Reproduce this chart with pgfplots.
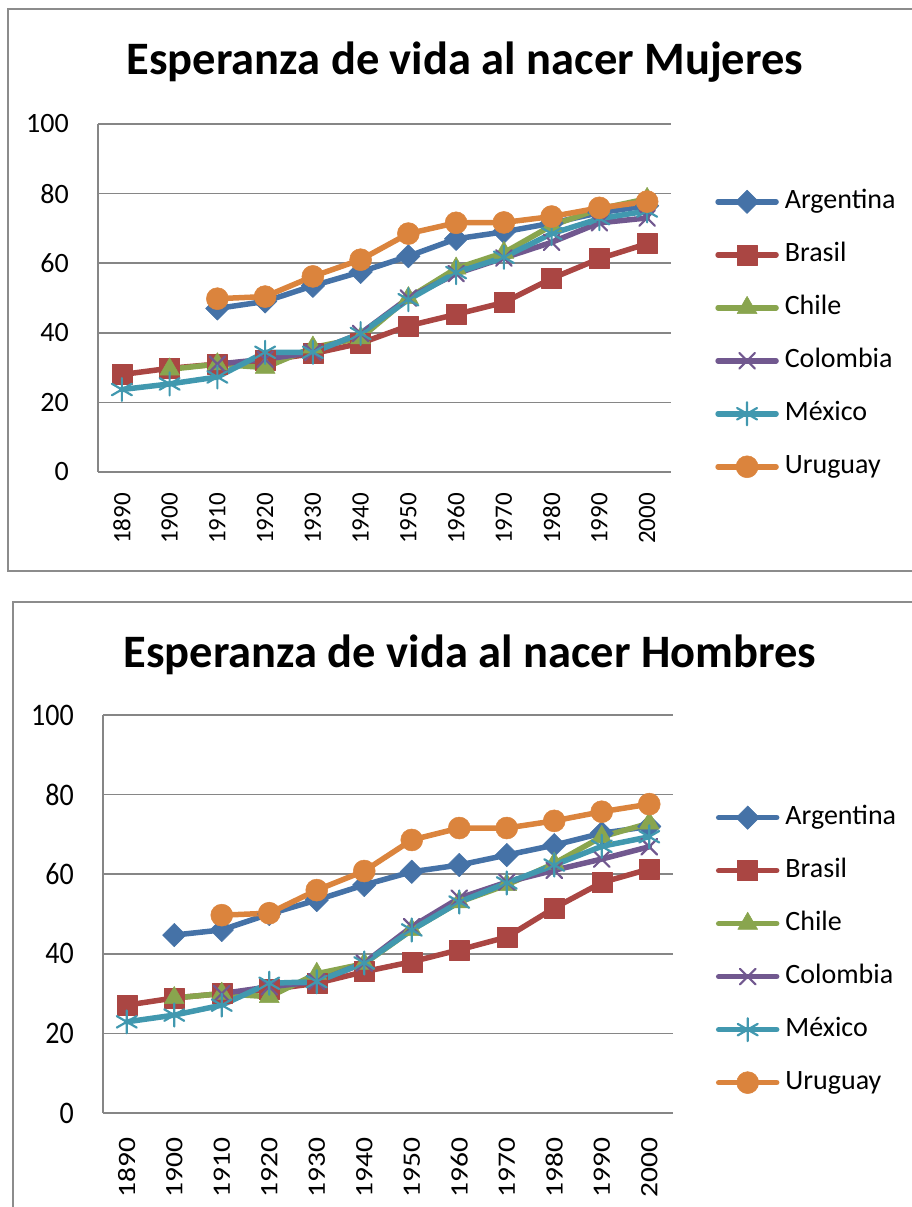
\documentclass[border=0pt]{standalone}
\usepackage{pgfplots}
\pgfplotsset{compat=1.18}
\usepackage{fontspec}
\setmainfont{Carlito}
\definecolor{cArg}{HTML}{4572A7}
\definecolor{cBra}{HTML}{AA4643}
\definecolor{cChi}{HTML}{89A54E}
\definecolor{cCol}{HTML}{71588F}
\definecolor{cMex}{HTML}{4198AF}
\definecolor{cUru}{HTML}{DB843D}
\definecolor{gris}{HTML}{868686}
\definecolor{borde}{HTML}{8C8C8C}
\pgfplotsset{
  lifeaxis/.style={
    scale only axis,
    xmin=1885, xmax=2005, ymin=0, ymax=100,
    ytick={0,20,40,60,80,100},
    xtick={1890,1900,1910,1920,1930,1940,1950,1960,1970,1980,1990,2000},
    xticklabels={1890,1900,1910,1920,1930,1940,1950,1960,1970,1980,1990,2000},
    axis lines*=left,
    axis line style={gris, line width=1.5pt, -},
    ymajorgrids,
    grid style={gris, line width=1.5pt},
    major tick length=0pt,
    /pgf/number format/assume math mode=true,
    clip=false,
    legend cell align=left,
    legend image code/.code={\draw[##1, mark repeat=2, mark phase=2] plot coordinates {(0pt,0pt) (29pt,0pt) (58pt,0pt)};},
    every axis plot/.append style={line width=5.5pt, line join=round, line cap=round},
  },
  sArg/.style={cArg, mark=square*, mark size=8.3pt, mark options={solid, rotate=45, fill=cArg, draw=cArg, line width=0.5pt}},
  sBra/.style={cBra, mark=square*, mark size=10pt, mark options={solid, fill=cBra, draw=cBra, line width=0.5pt}},
  sChi/.style={cChi, mark=triangle*, mark size=11.5pt, mark options={solid, fill=cChi, draw=cChi, line width=0.5pt}},
  sCol/.style={cCol, mark=x, mark size=11pt, mark options={solid, draw=cCol, line width=2.2pt}},
  sMex/.style={cMex, mark=asterisk, mark size=11.5pt, mark options={solid, draw=cMex, line width=2.2pt}},
  sUru/.style={cUru, mark=*, mark size=11pt, mark options={solid, fill=cUru, draw=cUru, line width=0.5pt}},
}
\begin{document}
\begin{tikzpicture}
\useasboundingbox (0pt,0pt) rectangle (912pt,1207pt);
% chart borders
\draw[borde, line width=2pt] (912pt,1198pt) -- (8pt,1198pt) -- (8pt,636pt) -- (912pt,636pt);
\draw[borde, line width=2pt] (912pt,605pt) -- (13pt,605pt) -- (13pt,-5pt);
% titles
\node[anchor=base, font=\fontsize{46.5}{46.5}\selectfont\bfseries] at (465pt,1132pt) {Esperanza de vida al nacer Mujeres};
\node[anchor=base, font=\fontsize{46.5}{46.5}\selectfont\bfseries] at (470pt,539pt) {Esperanza de vida al nacer Hombres};

\begin{axis}[lifeaxis,
  at={(98pt,735pt)}, anchor=south west, width=573pt, height=348pt,
  yticklabel style={font=\fontsize{28}{28}\selectfont, inner sep=0pt, xshift=-29pt},
  xticklabel style={font=\fontsize{25}{25}\selectfont, inner sep=0pt, yshift=-21pt, rotate=90, anchor=east},
  legend style={at={(axis description cs:1.077,0.813)}, anchor=north west, draw=none, fill=none,
    inner sep=0pt, row sep=28pt, column sep=6pt, font=\fontsize{28}{28}\selectfont,
    nodes={inner sep=0pt, text height=19pt, text depth=6pt}},
]
\addplot[sArg] coordinates {(1910,47) (1920,49) (1930,53.5) (1940,57.5) (1950,62) (1960,67) (1970,69) (1980,71.5) (1990,74.5) (2000,76.5)};
\addlegendentry{Argentina}
\addplot[sBra] coordinates {(1890,28) (1900,29.8) (1910,31) (1920,32) (1930,34) (1940,37) (1950,42) (1960,45.3) (1970,48.7) (1980,55.6) (1990,61.3) (2000,65.6)};
\addlegendentry{Brasil}
\addplot[sChi] coordinates {(1900,29.5) (1910,31) (1920,30) (1930,35.8) (1940,38.5) (1950,50) (1960,58.5) (1970,63) (1980,70.8) (1990,75.6) (2000,78.5)};
\addlegendentry{Chile}
\addplot[sCol] coordinates {(1910,31) (1920,32.4) (1930,34.4) (1940,39.8) (1950,50) (1960,57) (1970,61.5) (1980,66) (1990,71.6) (2000,73)};
\addlegendentry{Colombia}
\addplot[sMex] coordinates {(1890,23.7) (1900,25.3) (1910,27.3) (1920,34.4) (1930,34.4) (1940,39.8) (1950,49.5) (1960,57.3) (1970,61.7) (1980,68.5) (1990,72.8) (2000,75)};
\addlegendentry{México}
\addplot[sUru] coordinates {(1910,49.8) (1920,50.4) (1930,56.2) (1940,61) (1950,68.5) (1960,71.6) (1970,71.7) (1980,73.4) (1990,75.9) (2000,77.7)};
\addlegendentry{Uruguay}
\end{axis}

\begin{axis}[lifeaxis,
  at={(103pt,94pt)}, anchor=south west, width=570pt, height=398pt,
  yticklabel style={font=\fontsize{28}{28}\selectfont, inner sep=0pt, xshift=-29pt, yscale=1.12},
  xticklabel style={font=\fontsize{25}{25}\selectfont, inner sep=0pt, yshift=-24pt, yscale=1.18, rotate=90, anchor=east},
  legend style={at={(axis description cs:1.075,0.774)}, anchor=north west, draw=none, fill=none,
    inner sep=0pt, row sep=28pt, column sep=6pt, font=\fontsize{28}{28}\selectfont,
    nodes={inner sep=0pt, text height=19pt, text depth=6pt}},
]
\addplot[sArg] coordinates {(1900,44.7) (1910,46) (1920,50) (1930,53.5) (1940,57.3) (1950,60.6) (1960,62.3) (1970,64.8) (1980,67.3) (1990,70.3) (2000,72)};
\addlegendentry{Argentina}
\addplot[sBra] coordinates {(1890,27.1) (1900,28.9) (1910,30) (1920,31) (1930,32.6) (1940,35.5) (1950,38) (1960,41) (1970,44.2) (1980,51.5) (1990,57.9) (2000,61.3)};
\addlegendentry{Brasil}
\addplot[sChi] coordinates {(1900,28.9) (1910,30) (1920,29.2) (1930,35) (1940,37.5) (1950,46) (1960,53) (1970,57.3) (1980,62.7) (1990,69.4) (2000,72.8)};
\addlegendentry{Chile}
\addplot[sCol] coordinates {(1910,30) (1920,31.7) (1930,33) (1940,37.7) (1950,46.8) (1960,54) (1970,58) (1980,61) (1990,63.8) (2000,66.9)};
\addlegendentry{Colombia}
\addplot[sMex] coordinates {(1890,22.9) (1900,24.6) (1910,27.1) (1920,32.6) (1930,33) (1940,37.7) (1950,46) (1960,53) (1970,57.8) (1980,62.3) (1990,67) (2000,69.4)};
\addlegendentry{México}
\addplot[sUru] coordinates {(1910,49.7) (1920,50.2) (1930,56) (1940,60.8) (1950,68.6) (1960,71.6) (1970,71.6) (1980,73.4) (1990,75.7) (2000,77.6)};
\addlegendentry{Uruguay}
\end{axis}
\end{tikzpicture}
\end{document}
